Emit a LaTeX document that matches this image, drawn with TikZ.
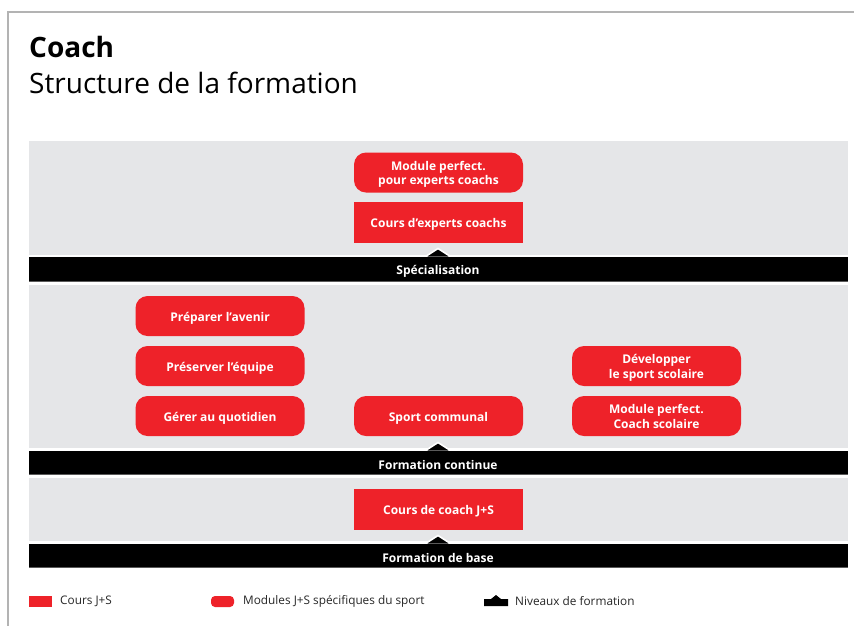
\documentclass[tikz,border=0pt]{standalone}
\usepackage{fontspec}
\setmainfont{Open Sans}
\definecolor{jsred}{HTML}{EE2229}
\definecolor{bandgray}{HTML}{E5E6E8}
\definecolor{framegray}{HTML}{B3B3B3}
\definecolor{baredge}{HTML}{5A5A5A}
\newcommand{\boxlbl}[1]{\raisebox{-2.2pt}[\height][\depth]{\begin{tabular}{@{}c@{}}#1\end{tabular}}}
\tikzset{
  x=1pt, y=-1pt,
  band/.style={fill=bandgray, draw=none},
  coursebox/.style={fill=jsred, draw=none, minimum width=169pt, minimum height=41pt, inner sep=0pt,
    text=white, font=\fontsize{12}{14.5}\selectfont\bfseries},
  modbox/.style={coursebox, rounded corners=12pt, minimum height=40pt},
  barlabel/.style={text=white, font=\fontsize{12}{14}\selectfont\bfseries, inner sep=0pt},
  legtext/.style={font=\fontsize{11.8}{14}\selectfont, anchor=west, inner sep=0pt, text=black!85},
}
\newcommand{\levelbar}[4]{% name, top y, bottom y, label
  \fill[black, draw=white, line width=1.6pt, line join=miter] (424,#2+0.5) -- (438,#2-8.5) -- (452,#2+0.5) -- cycle;
  \fill[black] (29,#2) rectangle (848,#3);
  \draw[baredge, line width=1pt] (29,#3-0.5) -- (848,#3-0.5);
  \node[barlabel] (#1) at (438,{(#2+#3)/2+1.5}) {#4};
}
\begin{document}
\begin{tikzpicture}
\useasboundingbox (0,0) rectangle (854,625);
\fill[white] (0,0) rectangle (854,625);
% frame
\draw[framegray, line width=1.6pt] (8,640) -- (8,12) -- (860,12);
% title
\node[anchor=base west, inner sep=0pt, font=\fontsize{28}{32}\selectfont\bfseries] (title) at (29,57) {Coach};
\node[anchor=base west, inner sep=0pt, font=\fontsize{28}{32}\selectfont] (subtitle) at (29,93) {Structure de la formation};
% bands
\fill[band] (29,141) rectangle (848,255);
\fill[band] (29,285) rectangle (848,448);
\fill[band] (29,478) rectangle (848,541);
% bars
\levelbar{spec}{257}{282}{Spécialisation}
\levelbar{cont}{451}{475}{Formation continue}
\levelbar{base}{544}{568}{Formation de base}
% boxes
\node[modbox] (mpe) at (438.5,172.5) {\boxlbl{Module perfect.\\pour experts coachs}};
\node[coursebox] (cec) at (438.5,222.5) {\boxlbl{Cours d’experts coachs}};
\node[modbox] (pav) at (220,316) {\boxlbl{Préparer l’avenir}};
\node[modbox] (peq) at (220,366) {\boxlbl{Préserver l’équipe}};
\node[modbox] (gqu) at (220,416) {\boxlbl{Gérer au quotidien}};
\node[modbox] (sco) at (438.5,416) {\boxlbl{Sport communal}};
\node[modbox] (dss) at (656.5,366) {\boxlbl{Développer\\le sport scolaire}};
\node[modbox] (mcs) at (656.5,416) {\boxlbl{Module perfect.\\Coach scolaire}};
\node[coursebox] (ccj) at (438.5,509) {\boxlbl{Cours de coach J+S}};
% legend
\fill[jsred] (29,596) rectangle (52,607);
\node[legtext] (l1) at (60,601.5) {Cours J+S};
\fill[jsred, rounded corners=4pt] (211,596) rectangle (234,607);
\node[legtext] (l2) at (243,601.5) {Modules J+S spécifiques du sport};
\fill[black] (484,599) -- (491,599) -- (496,595) -- (501,599) -- (508,599) -- (508,606) -- (484,606) -- cycle;
\node[legtext] (l3) at (515,601.5) {Niveaux de formation};
\end{tikzpicture}
\end{document}
